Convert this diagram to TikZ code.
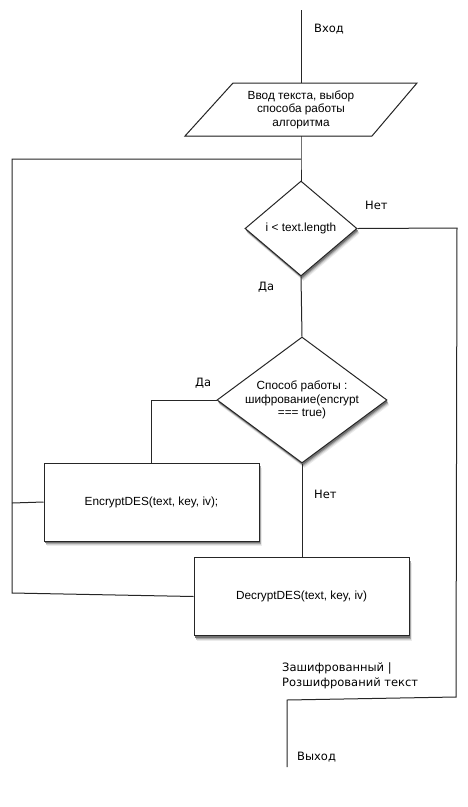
\documentclass[tikz,border=0pt]{standalone}
\usepackage{fontspec}
\setmainfont{Liberation Sans}
\newfontfamily\lblfont{DejaVu Sans}
\usetikzlibrary{shapes.geometric,shadows}

\tikzset{
  line/.style={draw=black!85, line width=1pt},
  % soft shadow built from a few stacked grey copies
  shade/.style={
    general shadow={shadow xshift=2.5pt, shadow yshift=-5pt, fill=black!8, draw=none},
    general shadow={shadow xshift=2pt, shadow yshift=-4pt, fill=black!18, draw=none},
    general shadow={shadow xshift=1.5pt, shadow yshift=-3pt, fill=black!35, draw=none},
    general shadow={shadow xshift=1pt, shadow yshift=-2pt, fill=black!55, draw=none}},
  procbox/.style={line, fill=white, shade, minimum width=215pt, minimum height=78pt, inner sep=0pt,
    font=\fontsize{11.8}{14}\selectfont},
  decision/.style={line, fill=white, shade, diamond, inner sep=0pt},
  boxtext/.style={align=center, font=\fontsize{11.8}{13.5}\selectfont, inner sep=0pt},
  lbl/.style={font=\lblfont\fontsize{11.5}{15}\selectfont, anchor=west, inner sep=0pt},
}

\begin{document}
\begin{tikzpicture}[x=1pt, y=-1pt]
  \useasboundingbox (0,0) rectangle (468,807);
  \fill[white] (0,0) rectangle (468,807);

  % input / output block
  \coordinate (pTL) at (233,83);
  \coordinate (pTR) at (417,83);
  \coordinate (pBR) at (372,136);
  \coordinate (pBL) at (185,136);
  \foreach \dx/\dy/\g in {2.5/5/8, 2/4/18, 1.5/3/35, 1/2/55}
    \fill[black!\g, shift={(\dx,\dy)}] (pTL) -- (pTR) -- (pBR) -- (pBL) -- cycle;
  \filldraw[line, fill=white] (pTL) -- (pTR) -- (pBR) -- (pBL) -- cycle;
  \node[boxtext] (input) at (301,109.5) {Ввод текста, выбор\\способа работы\\алгоритма};
  \coordinate (inTop) at (301,83);
  \coordinate (inBot) at (301,136);

  % decisions
  \node[decision, minimum width=112pt, minimum height=95pt] (d1) at (301,228.5) {};
  \node[boxtext] at (d1) {i < text.length};
  \node[decision, minimum width=170pt, minimum height=126pt] (d2) at (302,400) {};
  \node[boxtext] at (d2) {Способ работы :\\шифрование(encrypt\\=== true)};

  % processing blocks
  \node[procbox] (enc) at (151.5,502) {EncryptDES(text, key, iv);};
  \node[procbox] (dec) at (301.5,596.5) {DecryptDES(text, key, iv)};

  % helper points of the connectors
  \coordinate (start) at (301,10);
  \coordinate (loopTR) at (301,159);
  \coordinate (loopTL) at (12,159);
  \coordinate (loopBL) at (12,593);
  \coordinate (encL) at (12,503);
  \coordinate (noR) at (457,228);
  \coordinate (noB) at (456,697);
  \coordinate (outT) at (287,700);
  \coordinate (finish) at (287,767);
  \coordinate (yesL) at (151,400);

  % connectors
  \draw[line] (start) -- (inTop);
  \draw[line] (inBot) -- (loopTR) -- (d1.north);
  \draw[line] (loopTR) -- (loopTL) -- (loopBL) -- (dec.west);
  \draw[line] (encL) -- (enc.west);
  \draw[line] (d1.east) -- (noR) -- (noB) -- (outT) -- (finish);
  \draw[line] (d1.south) -- (d2.north);
  \draw[line] (d2.west) -- (yesL) -- (enc.north -| yesL);
  \draw[line] (d2.south) -- (dec.north -| d2.south);

  % labels
  \node[lbl] (lIn) at (314,29) {Вход};
  \node[lbl] (lNo1) at (365,205.5) {Нет};
  \node[lbl] (lYes1) at (258,287) {Да};
  \node[lbl] (lYes2) at (195,383) {Да};
  \node[lbl] (lNo2) at (314,494) {Нет};
  \node[lbl, align=left] (lRes) at (282,675.5) {Зашифрованный |\\Розшифрований текст};
  \node[lbl] (lOut) at (297,757) {Выход};
\end{tikzpicture}
\end{document}
